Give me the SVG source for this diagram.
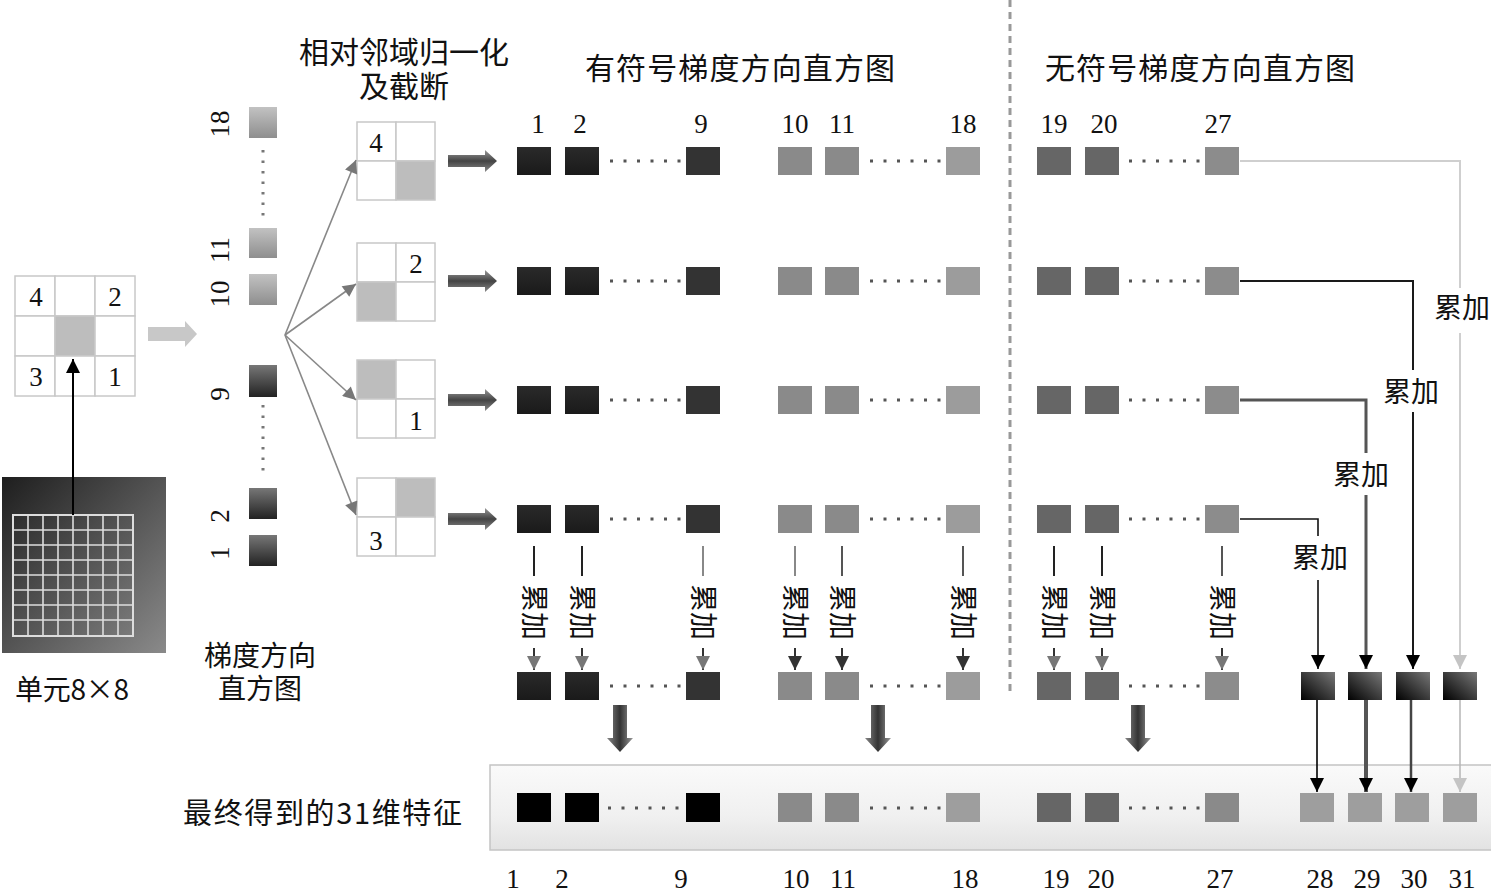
<svg xmlns="http://www.w3.org/2000/svg" width="1491" height="893" viewBox="0 0 1491 893">
<style>
.t{font-family:"Liberation Serif","Noto Sans CJK SC",serif;fill:#111}
.cn{font-family:"Noto Sans CJK SC","Liberation Serif",sans-serif;fill:#111}
.num{font-size:27px;text-anchor:middle}
.title{font-size:30px;text-anchor:middle}
.acc{font-size:28px;text-anchor:middle}
.cell{fill:#fff;stroke:#c8c8c8;stroke-width:1.5}
.gcell{fill:#bdbdbd;stroke:#c8c8c8;stroke-width:1.5}
.dot{fill:#555}
.d1{fill:url(#gDark)}
.d9{fill:#333}
.g10{fill:#8a8a8a}
.g18{fill:#9c9c9c}
.g19{fill:#666}
.g27{fill:#8c8c8c}
.acc4{fill:url(#gAcc)}
.fb{fill:#000}
.fg{fill:#8a8a8a}
.fl{fill:#9e9e9e}
</style>
<defs>
<linearGradient id="gDark" x1="0" y1="0" x2="0" y2="1"><stop offset="0" stop-color="#2a2a2a"/><stop offset="1" stop-color="#1a1a1a"/></linearGradient>
<linearGradient id="gAcc" x1="1" y1="0" x2="0" y2="1"><stop offset="0" stop-color="#777"/><stop offset="1" stop-color="#000"/></linearGradient>
<linearGradient id="gCell" x1="0" y1="0" x2="1" y2="1"><stop offset="0" stop-color="#1e1e1e"/><stop offset="1" stop-color="#8a8a8a"/></linearGradient>
<linearGradient id="gHistD" x1="0" y1="0" x2="0" y2="1"><stop offset="0" stop-color="#777"/><stop offset="1" stop-color="#222"/></linearGradient>
<linearGradient id="gHistL" x1="0" y1="0" x2="0" y2="1"><stop offset="0" stop-color="#c2c2c2"/><stop offset="1" stop-color="#8e8e8e"/></linearGradient>
<linearGradient id="gArrow" x1="0" y1="0" x2="0" y2="1"><stop offset="0" stop-color="#999"/><stop offset="0.5" stop-color="#444"/><stop offset="1" stop-color="#888"/></linearGradient>
<linearGradient id="gArrowV" x1="0" y1="0" x2="1" y2="0"><stop offset="0" stop-color="#888"/><stop offset="0.5" stop-color="#333"/><stop offset="1" stop-color="#999"/></linearGradient>
<linearGradient id="gBar" x1="0" y1="0" x2="0" y2="1"><stop offset="0" stop-color="#fafafa"/><stop offset="0.6" stop-color="#f0f0f0"/><stop offset="1" stop-color="#e2e2e2"/></linearGradient>
<marker id="mBlack" viewBox="0 0 10 10" refX="10" refY="5" markerWidth="14" markerHeight="14" markerUnits="userSpaceOnUse" orient="auto"><path d="M0,0 L10,5 L0,10 Z" fill="#000"/></marker>
<marker id="mGray" viewBox="0 0 10 10" refX="10" refY="5" markerWidth="14" markerHeight="14" markerUnits="userSpaceOnUse" orient="auto"><path d="M0,0 L10,5 L0,10 Z" fill="#777"/></marker>
<marker id="mDark" viewBox="0 0 10 10" refX="10" refY="5" markerWidth="14" markerHeight="14" markerUnits="userSpaceOnUse" orient="auto"><path d="M0,0 L10,5 L0,10 Z" fill="#333"/></marker>
<marker id="mLight" viewBox="0 0 10 10" refX="10" refY="5" markerWidth="14" markerHeight="14" markerUnits="userSpaceOnUse" orient="auto"><path d="M0,0 L10,5 L0,10 Z" fill="#c4c4c4"/></marker>
<marker id="mFan" viewBox="0 0 10 10" refX="10" refY="5" markerWidth="15" markerHeight="13" markerUnits="userSpaceOnUse" orient="auto"><path d="M0,0 L10,5 L0,10 Z" fill="#777"/></marker>
<g id="dots6"><rect x="0" y="-1.5" width="3" height="3" class="dot"/><rect x="13.5" y="-1.5" width="3" height="3" class="dot"/><rect x="27" y="-1.5" width="3" height="3" class="dot"/><rect x="40.5" y="-1.5" width="3" height="3" class="dot"/><rect x="54" y="-1.5" width="3" height="3" class="dot"/><rect x="67.5" y="-1.5" width="3" height="3" class="dot"/></g>
<g id="binrow">
<rect x="517" y="-14" width="34" height="28" class="d1"/>
<rect x="565" y="-14" width="34" height="28" class="d1"/>
<use href="#dots6" x="610"/>
<rect x="686" y="-14" width="34" height="28" class="d9"/>
<rect x="778" y="-14" width="34" height="28" class="g10"/>
<rect x="825" y="-14" width="34" height="28" class="g10"/>
<use href="#dots6" x="870"/>
<rect x="946" y="-14" width="34" height="28" class="g18"/>
<rect x="1037" y="-14" width="34" height="28" class="g19"/>
<rect x="1085" y="-14" width="34" height="28" class="g19"/>
<use href="#dots6" x="1129"/>
<rect x="1205" y="-14" width="34" height="28" class="g27"/>
</g>
<path id="rArrow" d="M0,-6 H37 V-11 L49,0 L37,11 V6 H0 Z"/>
<path id="dArrow" d="M-7,0 H7 V33 H13 L0,47 L-13,33 H-7 Z" fill="url(#gArrowV)"/>
</defs>

<rect width="1491" height="893" fill="#fff"/>

<!-- dashed divider -->
<line x1="1010" y1="0" x2="1010" y2="692" stroke="#999" stroke-width="3" stroke-dasharray="7,5"/>

<!-- cell 8x8 -->
<g id="cell">
<rect x="2" y="477" width="164" height="176" fill="url(#gCell)"/>
<rect x="13" y="515" width="120" height="121" fill="none" stroke="#ddd" stroke-width="2"/>
<path d="M28,515V636M43,515V636M58,515V636M73,515V636M88,515V636M103,515V636M118,515V636M13,530H133M13,545H133M13,560H133M13,575H133M13,590H133M13,605H133M13,620H133" stroke="#ddd" stroke-width="1.6" fill="none"/>
<text x="72" y="700" class="cn" font-size="28" text-anchor="middle" textLength="114">单元8×8</text>
</g>

<!-- 3x3 neighbourhood -->
<g id="grid3">
<rect x="15" y="276" width="40" height="40" class="cell"/>
<rect x="55" y="276" width="40" height="40" class="cell"/>
<rect x="95" y="276" width="40" height="40" class="cell"/>
<rect x="15" y="316" width="40" height="40" class="cell"/>
<rect x="55" y="316" width="40" height="40" class="gcell"/>
<rect x="95" y="316" width="40" height="40" class="cell"/>
<rect x="15" y="356" width="40" height="40" class="cell"/>
<rect x="55" y="356" width="40" height="40" class="cell"/>
<rect x="95" y="356" width="40" height="40" class="cell"/>
<text x="36" y="306" class="t" font-size="27" text-anchor="middle">4</text>
<text x="115" y="306" class="t" font-size="27" text-anchor="middle">2</text>
<text x="36" y="386" class="t" font-size="27" text-anchor="middle">3</text>
<text x="115" y="386" class="t" font-size="27" text-anchor="middle">1</text>
</g>

<!-- light arrow to histogram -->
<path d="M148,327 H185 V321 L197,334 L185,347 V341 H148 Z" fill="#c8c8c8"/>

<!-- orientation histogram column -->
<g id="hist">
<rect x="249" y="107" width="28" height="31" fill="url(#gHistL)"/>
<rect x="249" y="228" width="28" height="30" fill="url(#gHistL)"/>
<rect x="249" y="274" width="28" height="31" fill="url(#gHistL)"/>
<rect x="249" y="365" width="28" height="32" fill="url(#gHistD)"/>
<rect x="249" y="488" width="28" height="31" fill="url(#gHistD)"/>
<rect x="249" y="535" width="28" height="31" fill="url(#gHistD)"/>
<path d="M263,150V218M263,405V473" stroke="#777" stroke-width="3" stroke-dasharray="2.5,8" fill="none"/>
<text transform="translate(229,124) rotate(-90)" class="t" font-size="27" text-anchor="middle">18</text>
<text transform="translate(229,250) rotate(-90)" class="t" font-size="27" text-anchor="middle">11</text>
<text transform="translate(229,294) rotate(-90)" class="t" font-size="27" text-anchor="middle">10</text>
<text transform="translate(229,394) rotate(-90)" class="t" font-size="27" text-anchor="middle">9</text>
<text transform="translate(229,516) rotate(-90)" class="t" font-size="27" text-anchor="middle">2</text>
<text transform="translate(229,553) rotate(-90)" class="t" font-size="27" text-anchor="middle">1</text>
<text x="260" y="666" class="cn" font-size="28" text-anchor="middle">梯度方向</text>
<text x="260" y="699" class="cn" font-size="28" text-anchor="middle">直方图</text>
</g>

<!-- block title -->
<text x="404" y="63" class="cn title">相对邻域归一化</text>
<text x="404" y="97" class="cn title">及截断</text>

<!-- blocks -->
<g id="block1">
<rect x="357" y="122" width="39" height="39" class="cell"/><rect x="396" y="122" width="39" height="39" class="cell"/>
<rect x="357" y="161" width="39" height="39" class="cell"/><rect x="396" y="161" width="39" height="39" class="gcell"/>
<text x="376" y="152" class="t" font-size="27" text-anchor="middle">4</text>
</g>
<g id="block2">
<rect x="357" y="243" width="39" height="39" class="cell"/><rect x="396" y="243" width="39" height="39" class="cell"/>
<rect x="357" y="282" width="39" height="39" class="gcell"/><rect x="396" y="282" width="39" height="39" class="cell"/>
<text x="416" y="273" class="t" font-size="27" text-anchor="middle">2</text>
</g>
<g id="block3">
<rect x="357" y="360" width="39" height="39" class="gcell"/><rect x="396" y="360" width="39" height="39" class="cell"/>
<rect x="357" y="399" width="39" height="39" class="cell"/><rect x="396" y="399" width="39" height="39" class="cell"/>
<text x="416" y="430" class="t" font-size="27" text-anchor="middle">1</text>
</g>
<g id="block4">
<rect x="357" y="478" width="39" height="39" class="cell"/><rect x="396" y="478" width="39" height="39" class="gcell"/>
<rect x="357" y="517" width="39" height="39" class="cell"/><rect x="396" y="517" width="39" height="39" class="cell"/>
<text x="376" y="550" class="t" font-size="27" text-anchor="middle">3</text>
</g>

<!-- section titles -->
<text x="740" y="79" class="cn title" textLength="310">有符号梯度方向直方图</text>
<text x="1200" y="79" class="cn title" textLength="310">无符号梯度方向直方图</text>

<!-- bin index labels (top) -->
<g id="toplabels" class="t num">
<text x="538" y="133">1</text><text x="580" y="133">2</text><text x="701" y="133">9</text>
<text x="795" y="133">10</text><text x="842" y="133">11</text><text x="963" y="133">18</text>
<text x="1054" y="133">19</text><text x="1104" y="133">20</text><text x="1218" y="133">27</text>
</g>

<!-- block arrows right -->
<g fill="url(#gArrow)">
<use href="#rArrow" x="448" y="161"/>
<use href="#rArrow" x="448" y="281"/>
<use href="#rArrow" x="448" y="400"/>
<use href="#rArrow" x="448" y="519"/>
</g>

<!-- histogram rows -->
<g id="row1"><use href="#binrow" y="161"/></g>
<g id="row2"><use href="#binrow" y="281"/></g>
<g id="row3"><use href="#binrow" y="400"/></g>
<g id="row4"><use href="#binrow" y="519"/></g>
<g id="rowsum"><use href="#binrow" y="686"/></g>

<!-- accumulated 28-31 -->
<g id="acc28-31">
<rect x="1301" y="672" width="34" height="28" class="acc4"/>
<rect x="1348" y="672" width="34" height="28" class="acc4"/>
<rect x="1396" y="672" width="34" height="28" class="acc4"/>
<rect x="1443" y="672" width="34" height="28" class="acc4"/>
</g>

<!-- final feature bar -->
<g id="finalbar">
<rect x="490" y="765" width="1010" height="85" fill="url(#gBar)" stroke="#c4c4c4" stroke-width="1.5"/>
<text x="183" y="824" class="cn" font-size="29" textLength="279">最终得到的31维特征</text>
<rect x="517" y="793" width="34" height="29" class="fb"/>
<rect x="565" y="793" width="34" height="29" class="fb"/>
<use href="#dots6" x="608" y="808"/>
<rect x="686" y="793" width="34" height="29" class="fb"/>
<rect x="778" y="793" width="34" height="29" class="fg"/>
<rect x="825" y="793" width="34" height="29" class="fg"/>
<use href="#dots6" x="870" y="808"/>
<rect x="946" y="793" width="34" height="29" class="fl"/>
<rect x="1037" y="793" width="34" height="29" class="g19"/>
<rect x="1085" y="793" width="34" height="29" class="g19"/>
<use href="#dots6" x="1129" y="808"/>
<rect x="1205" y="793" width="34" height="29" class="fg"/>
<rect x="1300" y="793" width="34" height="29" class="fl"/>
<rect x="1348" y="793" width="34" height="29" class="fl"/>
<rect x="1395" y="793" width="34" height="29" class="fl"/>
<rect x="1443" y="793" width="34" height="29" class="fl"/>
</g>

<!-- bottom labels -->
<g id="botlabels" class="t num">
<text x="513" y="888">1</text><text x="562" y="888">2</text><text x="681" y="888">9</text>
<text x="796" y="888">10</text><text x="843" y="888">11</text><text x="965" y="888">18</text>
<text x="1056" y="888">19</text><text x="1101" y="888">20</text><text x="1220" y="888">27</text>
<text x="1320" y="888">28</text><text x="1367" y="888">29</text><text x="1414" y="888">30</text><text x="1462" y="888">31</text>
</g>

<!-- connectors -->
<g id="connectors" fill="none">
<line x1="73" y1="515" x2="73" y2="359" stroke="#000" stroke-width="2" marker-end="url(#mBlack)"/>
<g stroke="#888" stroke-width="1.6">
<line x1="285" y1="335" x2="356" y2="160" marker-end="url(#mFan)"/>
<line x1="285" y1="335" x2="356" y2="284" marker-end="url(#mFan)"/>
<line x1="285" y1="335" x2="356" y2="400" marker-end="url(#mFan)"/>
<line x1="285" y1="335" x2="356" y2="515" marker-end="url(#mFan)"/>
</g>
<g stroke-width="2">
<g stroke="#222"><line x1="534" y1="546" x2="534" y2="576"/><line x1="582" y1="546" x2="582" y2="576"/></g>
<line x1="703" y1="546" x2="703" y2="576" stroke="#888"/>
<line x1="795" y1="546" x2="795" y2="576" stroke="#888"/>
<g stroke="#555"><line x1="842" y1="546" x2="842" y2="576"/><line x1="963" y1="546" x2="963" y2="576"/></g>
<g stroke="#222"><line x1="1054" y1="546" x2="1054" y2="576"/><line x1="1102" y1="546" x2="1102" y2="576"/></g>
<line x1="1222" y1="546" x2="1222" y2="576" stroke="#555"/>
<g stroke="#333">
<line x1="534" y1="648" x2="534" y2="670" marker-end="url(#mGray)"/>
<line x1="582" y1="648" x2="582" y2="670" marker-end="url(#mGray)"/>
<line x1="703" y1="648" x2="703" y2="670" marker-end="url(#mGray)"/>
<line x1="795" y1="648" x2="795" y2="670" marker-end="url(#mDark)"/>
<line x1="842" y1="648" x2="842" y2="670" marker-end="url(#mDark)"/>
<line x1="963" y1="648" x2="963" y2="670" marker-end="url(#mDark)"/>
<line x1="1054" y1="648" x2="1054" y2="670" marker-end="url(#mGray)"/>
<line x1="1102" y1="648" x2="1102" y2="670" marker-end="url(#mGray)"/>
<line x1="1222" y1="648" x2="1222" y2="670" marker-end="url(#mGray)"/>
</g>
</g>
<path d="M1240,161 H1460 V288 M1460,333 V669" stroke="#cfcfcf" stroke-width="2" marker-end="url(#mLight)"/>
<path d="M1240,281 H1413 V370 M1413,412 V669" stroke="#1a1a1a" stroke-width="2" marker-end="url(#mBlack)"/>
<path d="M1240,400 H1366 V453 M1366,495 V669" stroke="#555" stroke-width="3" marker-end="url(#mBlack)"/>
<path d="M1240,519 H1318 V536 M1318,580 V669" stroke="#111" stroke-width="1.6" marker-end="url(#mBlack)"/>
<line x1="1317" y1="700" x2="1317" y2="792" stroke="#000" stroke-width="1.6" marker-end="url(#mBlack)"/>
<line x1="1366" y1="700" x2="1366" y2="792" stroke="#555" stroke-width="4" marker-end="url(#mBlack)"/>
<line x1="1411" y1="700" x2="1411" y2="792" stroke="#444" stroke-width="2.5" marker-end="url(#mBlack)"/>
<line x1="1460" y1="700" x2="1460" y2="792" stroke="#b4b4b4" stroke-width="1.5" marker-end="url(#mLight)"/>
<use href="#dArrow" x="620" y="705"/>
<use href="#dArrow" x="878" y="705"/>
<use href="#dArrow" x="1138" y="705"/>
</g>

<!-- accumulation labels -->
<g id="acclabels" class="cn acc">
<text transform="translate(524,612) rotate(90)">累加</text>
<text transform="translate(572,612) rotate(90)">累加</text>
<text transform="translate(693,612) rotate(90)">累加</text>
<text transform="translate(785,612) rotate(90)">累加</text>
<text transform="translate(832,612) rotate(90)">累加</text>
<text transform="translate(953,612) rotate(90)">累加</text>
<text transform="translate(1044,612) rotate(90)">累加</text>
<text transform="translate(1092,612) rotate(90)">累加</text>
<text transform="translate(1212,612) rotate(90)">累加</text>
<text x="1462" y="318">累加</text>
<text x="1411" y="402">累加</text>
<text x="1361" y="485">累加</text>
<text x="1320" y="568">累加</text>
</g>
</svg>
